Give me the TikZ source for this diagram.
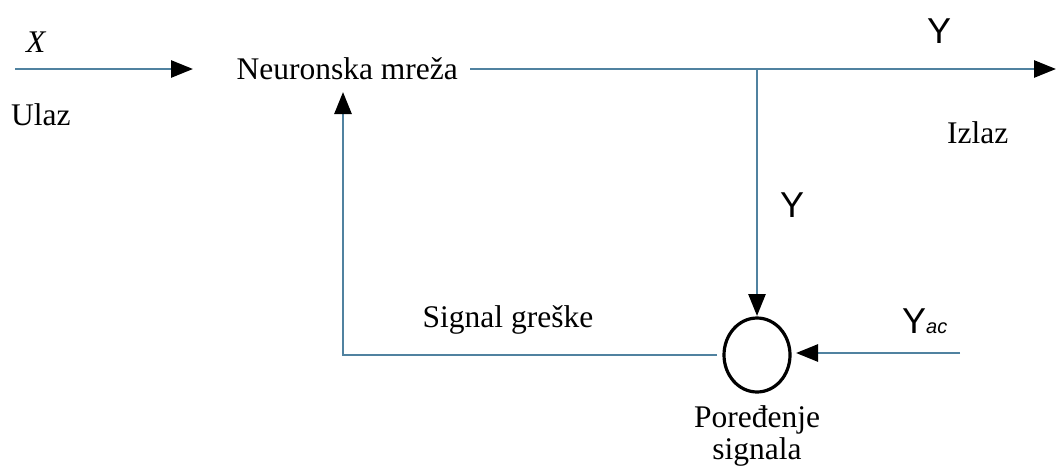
\documentclass[tikz,border=0pt]{standalone}
\usepackage{fontspec}
\setmainfont{Liberation Serif}
\newfontfamily\arialf{Liberation Sans}
\usetikzlibrary{arrows.meta,shapes.geometric}
\definecolor{linec}{RGB}{80,130,160}
\begin{document}
\begin{tikzpicture}[x=1pt,y=-1pt,
  wire/.style={draw=linec,line width=2.7pt},
  arr/.style={wire,-{Triangle[length=22pt,width=17pt,fill=black,color=black]}},
  lbl/.style={font=\fontsize{31.5}{35}\selectfont,inner sep=0pt},
  ylbl/.style={font=\arialf\fontsize{36}{40}\selectfont,inner sep=0pt}]
\useasboundingbox (0,0) rectangle (1056,466);
% nodes
\coordinate (in) at (15,69);
\node[lbl,anchor=east] (nm) at (458,69) {Neuronska mreža};
\coordinate (inend) at (193,69);
\coordinate (jn) at (757,69);
\coordinate (out) at (1056,69);
\node[draw=black,line width=3.2pt,ellipse,minimum width=66pt,minimum height=74pt,inner sep=0pt] (cmp) at (757,355) {};
\coordinate (cmpT) at (757,316);
\coordinate (cmpR) at (796,353);
\coordinate (cmpL) at (717,355);
\coordinate (yac) at (960,353);
\coordinate (fbc) at (343,355);
\coordinate (nmB) at (343,92);
% connectors
\draw[arr] (in) -- (inend);
\draw[arr] (470,69) -- (out);
\draw[arr] (jn) -- (cmpT);
\draw[arr] (yac) -- (cmpR);
\draw[arr] (cmpL) -- (fbc) -- (nmB);
% labels
\node[lbl,anchor=base west] (xl) at (26,52) {\itshape X};
\node[lbl,anchor=base west] (ul) at (11,125) {Ulaz};
\node[ylbl,anchor=base west] (y1) at (927,43) {Y};
\node[lbl,anchor=base west] (iz) at (947,143) {Izlaz};
\node[ylbl,anchor=base west] (y2) at (780,217) {Y};
\node[lbl,anchor=base] (sg) at (508,327) {Signal greške};
\node[ylbl,anchor=base west] (y3) at (902,333) {Y\fontsize{20}{22}\selectfont\itshape ac};
\node[lbl,anchor=base] (po1) at (757,427) {Poređenje};
\node[lbl,anchor=base] (po2) at (757,459) {signala};
\end{tikzpicture}
\end{document}
